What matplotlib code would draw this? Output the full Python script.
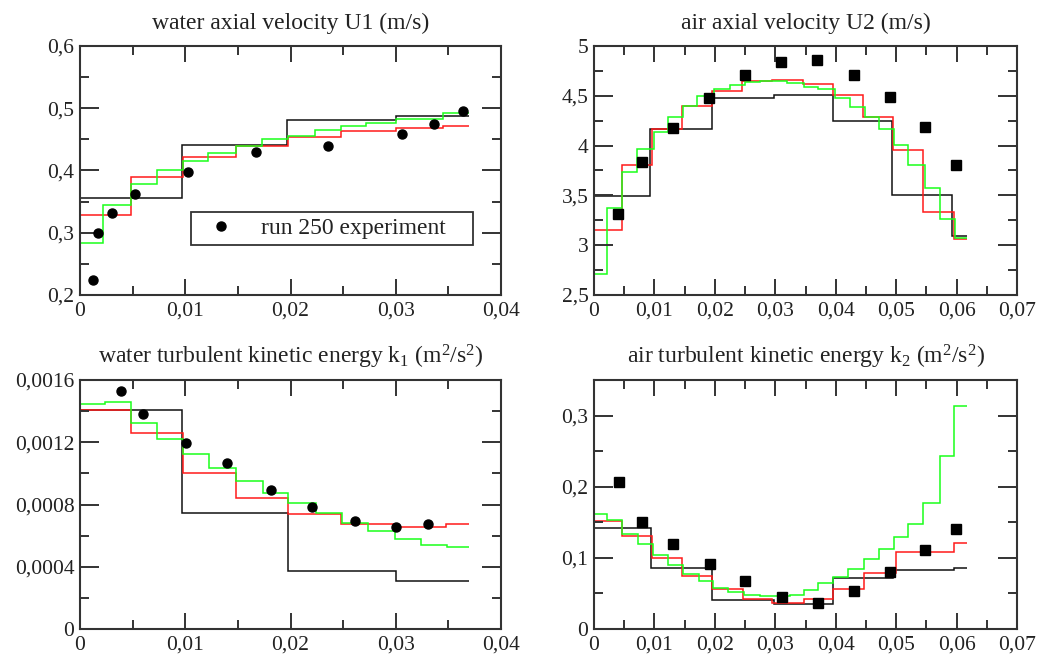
import matplotlib
matplotlib.use("Agg")
import matplotlib.pyplot as plt
from matplotlib.ticker import MultipleLocator, FuncFormatter

plt.rcParams["font.family"] = ["Liberation Serif", "DejaVu Serif"]
plt.rcParams["mathtext.default"] = "regular"

# ---------------------------------------------------------------------------
# data (step profiles: edges + levels, experiment: points)
# ---------------------------------------------------------------------------

# water axial velocity U1
u1_black_x = [0, 0.0097, 0.0197, 0.030, 0.037]
u1_black_y = [0.356, 0.441, 0.481, 0.487]
u1_red_x = [0, 0.0048, 0.0098, 0.0148, 0.0198, 0.0248, 0.030, 0.0345, 0.037]
u1_red_y = [0.328, 0.389, 0.421, 0.440, 0.454, 0.463, 0.468, 0.472]
u1_green_x = [0, 0.0022, 0.0048, 0.0073, 0.0098, 0.0122, 0.0148, 0.0173,
              0.0198, 0.0223, 0.0248, 0.0272, 0.030, 0.0345, 0.037]
u1_green_y = [0.284, 0.345, 0.378, 0.400, 0.415, 0.428, 0.440, 0.450,
              0.456, 0.465, 0.471, 0.476, 0.483, 0.493]
u1_exp_x = [0.0012, 0.0017, 0.0030, 0.0052, 0.0103, 0.0167, 0.0236, 0.0306,
            0.0336, 0.0364]
u1_exp_y = [0.224, 0.299, 0.332, 0.362, 0.397, 0.430, 0.440, 0.458, 0.475,
            0.495]

# air axial velocity U2
u2_black_x = [0, 0.0093, 0.0195, 0.0298, 0.0395, 0.0493, 0.0592, 0.0617]
u2_black_y = [3.49, 4.17, 4.48, 4.51, 4.25, 3.50, 3.09]
u2_red_x = [0, 0.0046, 0.0096, 0.0145, 0.0196, 0.0245, 0.0295, 0.0345,
            0.0396, 0.0445, 0.0495, 0.0545, 0.0595, 0.0617]
u2_red_y = [3.15, 3.81, 4.17, 4.40, 4.55, 4.65, 4.66, 4.62, 4.51, 4.29,
            3.96, 3.33, 3.06]
u2_green_x = [0, 0.0022, 0.0047, 0.0071, 0.0099, 0.0122, 0.0148, 0.0170,
              0.0198, 0.0225, 0.0250, 0.0275, 0.0319, 0.0347, 0.0371, 0.0399,
              0.0424, 0.0449, 0.0471, 0.0496, 0.0520, 0.0547, 0.0572, 0.0598,
              0.0617]
u2_green_y = [2.71, 3.37, 3.73, 3.97, 4.14, 4.29, 4.40, 4.50, 4.57, 4.61,
              4.64, 4.65, 4.63, 4.59, 4.57, 4.48, 4.39, 4.29, 4.17, 4.01,
              3.81, 3.57, 3.26, 3.07]
u2_exp_x = [0.0040, 0.0080, 0.0130, 0.0190, 0.0250, 0.0310, 0.0369, 0.0430,
            0.0489, 0.0548, 0.0599]
u2_exp_y = [3.31, 3.84, 4.18, 4.48, 4.71, 4.84, 4.86, 4.71, 4.49, 4.19, 3.81]

# water turbulent kinetic energy k1
k1_black_x = [0, 0.0097, 0.0198, 0.0300, 0.037]
k1_black_y = [0.00141, 0.000745, 0.00037, 0.000306]
k1_red_x = [0, 0.0048, 0.0098, 0.0148, 0.0198, 0.0248, 0.0298, 0.0348, 0.037]
k1_red_y = [0.00141, 0.00126, 0.00100, 0.00084, 0.000738, 0.000672,
            0.000658, 0.000672]
k1_green_x = [0, 0.0024, 0.0048, 0.0073, 0.0098, 0.0123, 0.0148, 0.0174,
              0.0198, 0.0224, 0.0249, 0.0274, 0.0299, 0.0324, 0.0349, 0.037]
k1_green_y = [0.001444, 0.001457, 0.001322, 0.001219, 0.001123, 0.001033,
              0.000954, 0.000877, 0.000809, 0.000744, 0.000684, 0.000627,
              0.000578, 0.000541, 0.000524]
k1_exp_x = [0.0039, 0.0060, 0.0101, 0.0140, 0.0181, 0.0220, 0.0261, 0.0300,
            0.0331]
k1_exp_y = [0.001532, 0.001382, 0.001198, 0.001070, 0.000894, 0.000781,
            0.000693, 0.000654, 0.000676]

# air turbulent kinetic energy k2
k2_black_x = [0, 0.0094, 0.0196, 0.0297, 0.0396, 0.0495, 0.0595, 0.0617]
k2_black_y = [0.142, 0.086, 0.041, 0.035, 0.072, 0.083, 0.086]
k2_red_x = [0, 0.0046, 0.0096, 0.0146, 0.0196, 0.0246, 0.0294, 0.0347,
            0.0396, 0.0446, 0.0499, 0.0595, 0.0617]
k2_red_y = [0.152, 0.131, 0.100, 0.075, 0.056, 0.042, 0.036, 0.042, 0.056,
            0.079, 0.108, 0.121]
k2_green_x = [0, 0.0022, 0.0047, 0.0072, 0.0097, 0.0123, 0.0148, 0.0173,
              0.0197, 0.0222, 0.0248, 0.0274, 0.0324, 0.0347, 0.0371, 0.0396,
              0.0421, 0.0446, 0.0471, 0.0496, 0.0520, 0.0545, 0.0573, 0.0595,
              0.0617]
k2_green_y = [0.161, 0.153, 0.133, 0.119, 0.104, 0.090, 0.077, 0.068, 0.058,
              0.052, 0.048, 0.046, 0.048, 0.055, 0.064, 0.073, 0.085, 0.098,
              0.112, 0.129, 0.148, 0.177, 0.243, 0.313]
k2_exp_x = [0.0041, 0.0080, 0.0130, 0.0192, 0.0250, 0.0311, 0.0370, 0.0430,
            0.0489, 0.0548, 0.0599]
k2_exp_y = [0.207, 0.150, 0.120, 0.091, 0.068, 0.045, 0.036, 0.053, 0.080,
            0.111, 0.140]

titles = [
    "water axial velocity U1 (m/s)",
    "air axial velocity U2 (m/s)",
    "water turbulent kinetic energy k$_1$ (m$^2$/s$^2$)",
    "air turbulent kinetic energy k$_2$ (m$^2$/s$^2$)",
]
legend_label = "run 250 experiment"

# ---------------------------------------------------------------------------
# plotting
# ---------------------------------------------------------------------------

comma_fmt = FuncFormatter(lambda v, pos: f"{v:.10g}".replace(".", ","))
TXT = "#222222"


def style_axis(ax, xlim, ylim, xmaj, ymaj):
    ax.set_xlim(*xlim)
    ax.set_ylim(*ylim)
    ax.xaxis.set_major_locator(MultipleLocator(xmaj))
    ax.xaxis.set_minor_locator(MultipleLocator(xmaj / 2))
    ax.yaxis.set_major_locator(MultipleLocator(ymaj))
    ax.yaxis.set_minor_locator(MultipleLocator(ymaj / 2))
    ax.xaxis.set_major_formatter(comma_fmt)
    ax.yaxis.set_major_formatter(comma_fmt)
    ax.tick_params(which="both", direction="in", top=True, right=True,
                   width=1.4, color="#333333", labelsize=15.5,
                   labelcolor=TXT)
    ax.tick_params(axis="x", which="major", length=11.5, pad=5)
    ax.tick_params(axis="y", which="major", length=13.5, pad=4)
    ax.tick_params(which="minor", length=6.5)
    for sp in ax.spines.values():
        sp.set_linewidth(1.5)
        sp.set_color("#333333")


def draw_profiles(ax, bx, by, rx, ry, gx, gy):
    ax.stairs(by, bx, baseline=None, color="#111111", lw=1.1)
    ax.stairs(ry, rx, baseline=None, color="#ff1a1a", lw=1.1)
    ax.stairs(gy, gx, baseline=None, color="#1aff1a", lw=1.1)


fig = plt.figure(figsize=(10.38, 6.59), dpi=100)
ax1 = fig.add_axes([0.0771, 0.5524, 0.4056, 0.3778])
ax2 = fig.add_axes([0.5723, 0.5524, 0.4075, 0.3778])
ax3 = fig.add_axes([0.0771, 0.0455, 0.4056, 0.3778])
ax4 = fig.add_axes([0.5723, 0.0455, 0.4075, 0.3778])

# U1
draw_profiles(ax1, u1_black_x, u1_black_y, u1_red_x, u1_red_y,
              u1_green_x, u1_green_y)
ax1.plot(u1_exp_x, u1_exp_y, "o", color="black", ms=6.5, label=legend_label,
         zorder=5)
style_axis(ax1, (0, 0.04), (0.2, 0.6), 0.01, 0.1)
leg = ax1.legend(loc="upper left", bbox_to_anchor=(0.264, 0.333, 0.669, 0.0),
                 mode="expand", borderaxespad=0, fontsize=17, frameon=True,
                 fancybox=False, borderpad=0.25, handlelength=2.0,
                 handletextpad=0.7, labelcolor=TXT)
leg.get_frame().set_edgecolor("black")
leg.get_frame().set_linewidth(1.3)

# U2
draw_profiles(ax2, u2_black_x, u2_black_y, u2_red_x, u2_red_y,
              u2_green_x, u2_green_y)
ax2.plot(u2_exp_x, u2_exp_y, "s", color="black", ms=6.5, zorder=5)
style_axis(ax2, (0, 0.07), (2.5, 5), 0.01, 0.5)

# k1
draw_profiles(ax3, k1_black_x, k1_black_y, k1_red_x, k1_red_y,
              k1_green_x, k1_green_y)
ax3.plot(k1_exp_x, k1_exp_y, "o", color="black", ms=6.5, zorder=5)
style_axis(ax3, (0, 0.04), (0, 0.0016), 0.01, 0.0004)

# k2
draw_profiles(ax4, k2_black_x, k2_black_y, k2_red_x, k2_red_y,
              k2_green_x, k2_green_y)
ax4.plot(k2_exp_x, k2_exp_y, "s", color="black", ms=6.5, zorder=5)
style_axis(ax4, (0, 0.07), (0, 0.35), 0.01, 0.1)

for ax, t in zip([ax1, ax2, ax3, ax4], titles):
    ax.set_title(t, fontsize=17, pad=12, color=TXT)

fig.savefig("out.png", dpi=100)
